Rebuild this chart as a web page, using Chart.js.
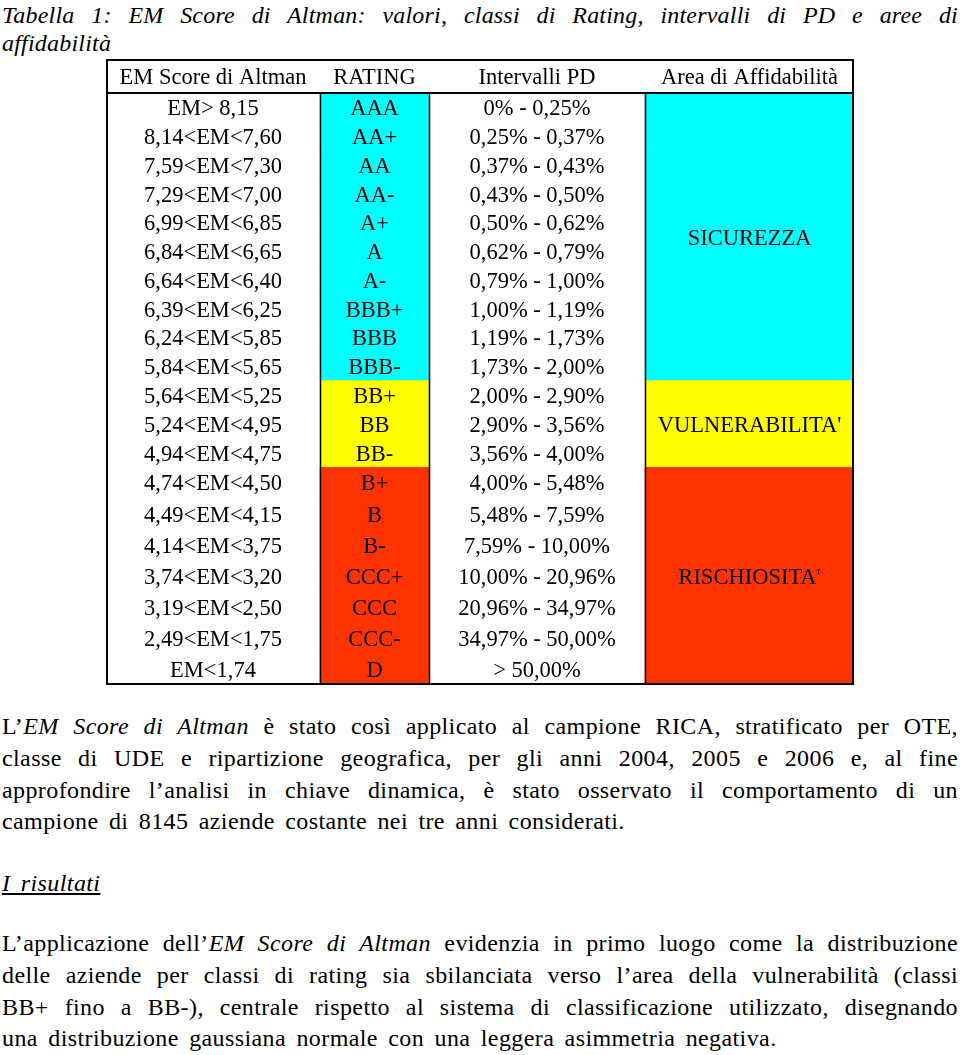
<!DOCTYPE html>
<html lang="it">
<head>
<meta charset="utf-8">
<script src="https://cdn.jsdelivr.net/npm/chart.js@4.4.1/dist/chart.umd.min.js"></script>
<style>
  body { margin: 0; background: #fff; color: #000; font-family: "Liberation Serif", "Times New Roman", serif; }
  .ln { position: absolute; left: 2px; width: 956px; line-height: 30px; font-size: 24px;
        letter-spacing: 0.4px; word-spacing: 4px;
        text-align: justify; text-align-last: justify; }
  .last { text-align-last: left; }
  .title { font-size: 24px; font-style: italic; letter-spacing: 0.2px; word-spacing: 0; }
  canvas { position: absolute; left: 106px; }
</style>
</head>
<body>

<div class="ln title" style="top:0px">Tabella 1: EM Score di Altman: valori, classi di Rating, intervalli di PD e aree di</div>
<div class="ln title last" style="top:28px">affidabilità</div>

<canvas id="tableTop" width="748" height="408" style="top:59px"></canvas>
<canvas id="tableBottom" width="748" height="218" style="top:467px"></canvas>

<div class="ln" style="top:711px">L’<i>EM Score di Altman</i> è stato così applicato al campione RICA, stratificato per OTE,</div>
<div class="ln" style="top:743px">classe di UDE e ripartizione geografica, per gli anni 2004, 2005 e 2006 e, al fine</div>
<div class="ln" style="top:775px">approfondire l’analisi in chiave dinamica, è stato osservato il comportamento di un</div>
<div class="ln last" style="top:806px">campione di 8145 aziende costante nei tre anni considerati.</div>

<div class="ln last" style="top:868px"><i><u>I risultati</u></i></div>

<div class="ln" style="top:928px">L’applicazione dell’<i>EM Score di Altman</i> evidenzia in primo luogo come la distribuzione</div>
<div class="ln" style="top:960px">delle aziende per classi di rating sia sbilanciata verso l’area della vulnerabilità (classi</div>
<div class="ln" style="top:992px">BB+ fino a BB-), centrale rispetto al sistema di classificazione utilizzato, disegnando</div>
<div class="ln last" style="top:1023px">una distribuzione gaussiana normale con una leggera asimmetria negativa.</div>

<script>
// table contents
const headers = ['EM Score di Altman', 'RATING', 'Intervalli PD', 'Area di Affidabilità'];
const emRanges = ['EM> 8,15', '8,14<EM<7,60', '7,59<EM<7,30', '7,29<EM<7,00', '6,99<EM<6,85',
  '6,84<EM<6,65', '6,64<EM<6,40', '6,39<EM<6,25', '6,24<EM<5,85', '5,84<EM<5,65',
  '5,64<EM<5,25', '5,24<EM<4,95', '4,94<EM<4,75', '4,74<EM<4,50', '4,49<EM<4,15',
  '4,14<EM<3,75', '3,74<EM<3,20', '3,19<EM<2,50', '2,49<EM<1,75', 'EM<1,74'];
const ratings = ['AAA', 'AA+', 'AA', 'AA-', 'A+', 'A', 'A-', 'BBB+', 'BBB', 'BBB-',
  'BB+', 'BB', 'BB-', 'B+', 'B', 'B-', 'CCC+', 'CCC', 'CCC-', 'D'];
const pdIntervals = ['0% - 0,25%', '0,25% - 0,37%', '0,37% - 0,43%', '0,43% - 0,50%', '0,50% - 0,62%',
  '0,62% - 0,79%', '0,79% - 1,00%', '1,00% - 1,19%', '1,19% - 1,73%', '1,73% - 2,00%',
  '2,00% - 2,90%', '2,90% - 3,56%', '3,56% - 4,00%', '4,00% - 5,48%', '5,48% - 7,59%',
  '7,59% - 10,00%', '10,00% - 20,96%', '20,96% - 34,97%', '34,97% - 50,00%', '> 50,00%'];
const areaNames = ['SICUREZZA', "VULNERABILITA'", "RISCHIOSITA'"];
const rowArea = [0, 0, 0, 0, 0, 0, 0, 0, 0, 0, 1, 1, 1, 2, 2, 2, 2, 2, 2, 2];

// layout: column edges in table pixels, area colours
const colEdges = [0, 214, 323, 539, 748];
const areaColors = ['#00ffff', '#ffff00', '#ff3300'];
const cellFont = '22.5px "Liberation Serif"';

const tableLines = {
  id: 'tableLines',
  afterDatasetsDraw(chart, args, opts) {
    const ctx = chart.ctx;
    const x = chart.scales.x, y = chart.scales.y;
    const area = chart.chartArea;
    const rows = opts.rows;
    const w = chart.width, h = chart.height;
    const band = (area.bottom - area.top) / rows.length;

    ctx.save();
    ctx.fillStyle = '#000';
    ctx.font = cellFont;
    ctx.textAlign = 'center';
    ctx.textBaseline = 'middle';

    // header
    if (opts.header) {
      headers.forEach((t, c) => {
        const cx = (x.getPixelForValue(colEdges[c]) + x.getPixelForValue(colEdges[c + 1])) / 2;
        ctx.fillText(t, cx, area.top / 2 + 2);
      });
    }

    // cells
    rows.forEach((r, k) => {
      const cy = y.getPixelForValue(k) + 2;
      const cols = [emRanges[r], ratings[r], pdIntervals[r]];
      cols.forEach((t, c) => {
        const cx = (x.getPixelForValue(colEdges[c]) + x.getPixelForValue(colEdges[c + 1])) / 2;
        ctx.fillText(t, cx, cy);
      });
    });

    // merged area labels
    areaNames.forEach((name, a) => {
      const ks = rows.map((r, k) => rowArea[r] === a ? k : -1).filter(k => k >= 0);
      if (!ks.length) return;
      const top = y.getPixelForValue(ks[0]) - band / 2;
      const bot = y.getPixelForValue(ks[ks.length - 1]) + band / 2;
      const cx = (x.getPixelForValue(colEdges[3]) + x.getPixelForValue(colEdges[4])) / 2;
      ctx.fillText(name, cx, (top + bot) / 2 + 2);
    });

    // grid
    ctx.strokeStyle = '#000';
    ctx.lineWidth = 1.5;
    [1, 2, 3].forEach(c => {
      const px = Math.round(x.getPixelForValue(colEdges[c])) + 0.5;
      ctx.beginPath();
      ctx.moveTo(px, area.top);
      ctx.lineTo(px, area.bottom);
      ctx.stroke();
    });
    ctx.lineWidth = 2;
    ctx.beginPath();
    ctx.moveTo(1, 0); ctx.lineTo(1, h);
    ctx.moveTo(w - 1, 0); ctx.lineTo(w - 1, h);
    if (opts.header) {
      ctx.moveTo(0, 1); ctx.lineTo(w, 1);
      ctx.moveTo(0, area.top); ctx.lineTo(w, area.top);
    }
    if (opts.bottom) {
      ctx.moveTo(0, h - 1); ctx.lineTo(w, h - 1);
    }
    ctx.stroke();
    ctx.restore();
  }
};

function buildTable(id, from, to, header, bottom) {
  const rows = [];
  for (let i = from; i < to; i++) rows.push(i);
  const colors = rows.map(r => areaColors[rowArea[r]]);
  const common = {
    backgroundColor: colors,
    borderWidth: 0,
    barPercentage: 1,
    categoryPercentage: 1,
    grouped: false
  };
  return new Chart(document.getElementById(id), {
    type: 'bar',
    data: {
      labels: rows.map(r => ratings[r]),
      datasets: [
        Object.assign({ label: 'RATING', data: rows.map(() => [colEdges[1], colEdges[2]]) }, common),
        Object.assign({ label: 'Area di Affidabilità', data: rows.map(() => [colEdges[3], colEdges[4]]) }, common)
      ]
    },
    options: {
      indexAxis: 'y',
      responsive: false,
      animation: false,
      devicePixelRatio: 1,
      layout: { padding: { top: header ? 34 : 0, bottom: 0, left: 0, right: 0 } },
      scales: {
        x: { type: 'linear', min: 0, max: colEdges[4], display: false },
        y: { display: false }
      },
      plugins: {
        legend: { display: false },
        tooltip: { enabled: false },
        tableLines: { rows: rows, header: header, bottom: bottom }
      }
    },
    plugins: [tableLines]
  });
}

window.onload = function () {
  buildTable('tableTop', 0, 13, true, false);
  buildTable('tableBottom', 13, 20, false, true);
};
</script>
</body>
</html>
